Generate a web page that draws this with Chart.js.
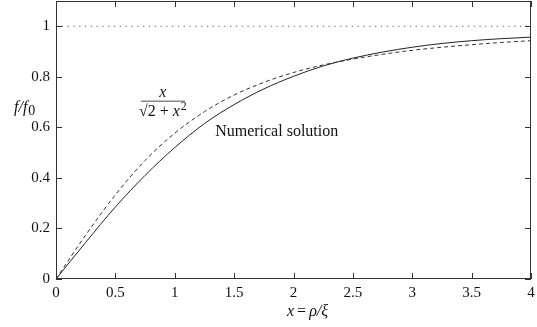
<!DOCTYPE html>
<html>
<head>
<meta charset="utf-8">
<script src="https://cdn.jsdelivr.net/npm/chart.js@4.4.1/dist/chart.umd.min.js"></script>
<style>
  html, body { margin: 0; padding: 0; background: #fff; }
  #wrap { width: 537px; height: 327px; }
</style>
</head>
<body>
<div id="wrap"><canvas id="grafica"></canvas></div>
<script>
// values
const xs = [0, 0.25, 0.5, 0.75, 1, 1.25, 1.5, 1.75, 2, 2.25, 2.5, 2.75, 3, 3.25, 3.5, 3.75, 4];
const numerica = [0, 0.145, 0.285, 0.41, 0.52, 0.615, 0.69, 0.752, 0.802, 0.843, 0.874, 0.898, 0.917, 0.932, 0.943, 0.951, 0.957];
const aproximacion = [0, 0.174, 0.333, 0.469, 0.577, 0.662, 0.728, 0.778, 0.817, 0.847, 0.870, 0.889, 0.905, 0.917, 0.927, 0.936, 0.943];
const limiteX = [0, 4];
const limite = [1, 1];
const xTicks = [0, 0.5, 1, 1.5, 2, 2.5, 3, 3.5, 4];
const yTicks = [0, 0.2, 0.4, 0.6, 0.8, 1];

const serif = "'Liberation Serif', 'DejaVu Serif', serif";

function puntos(x, y) {
  return x.map((v, i) => ({ x: v, y: y[i] }));
}

// inward ticks on all four sides + frame + texts
const marco = {
  id: "marco",
  afterDraw(chart) {
    const ctx = chart.ctx;
    const a = chart.chartArea;
    const sx = chart.scales.x;
    const sy = chart.scales.y;
    ctx.save();
    ctx.strokeStyle = "#333";
    ctx.lineWidth = 1;
    ctx.strokeRect(a.left + 0.5, a.top + 0.5, a.right - a.left - 1, a.bottom - a.top - 1);
    ctx.beginPath();
    xTicks.forEach((v) => {
      const px = Math.round(sx.getPixelForValue(v)) + 0.5;
      ctx.moveTo(px, a.bottom);
      ctx.lineTo(px, a.bottom - 6);
      ctx.moveTo(px, a.top);
      ctx.lineTo(px, a.top + 6);
    });
    yTicks.forEach((v) => {
      const py = Math.round(sy.getPixelForValue(v)) + 0.5;
      ctx.moveTo(a.left, py);
      ctx.lineTo(a.left + 6, py);
      ctx.moveTo(a.right, py);
      ctx.lineTo(a.right - 6, py);
    });
    ctx.stroke();

    ctx.fillStyle = "#111";
    ctx.textBaseline = "alphabetic";
    ctx.textAlign = "left";

    // y title f/f0
    ctx.font = "italic 16px " + serif;
    ctx.fillText("f/f", 14, 112);
    let tx = 14 + ctx.measureText("f/f").width + 1;
    ctx.font = "14px " + serif;
    ctx.fillText("0", tx, 115);

    // x title x = ρ/ξ
    let xx = 287;
    const yy = 316;
    ctx.font = "italic 16px " + serif;
    ctx.fillText("x", xx, yy);
    xx += ctx.measureText("x").width + 3;
    ctx.font = "16px " + serif;
    ctx.fillText("=", xx, yy);
    xx += ctx.measureText("=").width + 3;
    ctx.font = "italic 16px " + serif;
    ctx.fillText("ρ/ξ", xx, yy);

    // fraction label x / sqrt(2 + x^2)
    const fx = sx.getPixelForValue(0.9);
    const fy = sy.getPixelForValue(0.703);
    ctx.font = "italic 16px " + serif;
    ctx.textAlign = "center";
    ctx.fillText("x", fx, fy - 4);
    ctx.strokeStyle = "#888";
    ctx.lineWidth = 1.5;
    ctx.beginPath();
    ctx.moveTo(fx - 22, fy);
    ctx.lineTo(fx + 22, fy);
    ctx.stroke();
    ctx.textAlign = "left";
    let qx = fx - 24;
    ctx.font = "16px " + serif;
    ctx.fillText("\u221A", qx, fy + 15);
    qx += ctx.measureText("\u221A").width;
    ctx.fillText("2 + ", qx, fy + 15);
    qx += ctx.measureText("2 + ").width;
    ctx.font = "italic 16px " + serif;
    ctx.fillText("x", qx, fy + 15);
    qx += ctx.measureText("x").width + 1;
    ctx.font = "12px " + serif;
    ctx.fillText("2", qx, fy + 9);

    // Numerical solution
    ctx.font = "16px " + serif;
    ctx.fillText("Numerical solution", sx.getPixelForValue(1.34), sy.getPixelForValue(0.584) + 5);
    ctx.restore();
  },
};

new Chart(document.getElementById("grafica"), {
  type: "line",
  data: {
    datasets: [
      {
        data: puntos(limiteX, limite),
        borderColor: "#666",
        borderWidth: 1.2,
        borderDash: [1.3, 4.5],
        pointRadius: 0,
      },
      {
        data: puntos(xs, aproximacion),
        borderColor: "#333",
        borderWidth: 1,
        borderDash: [4, 3],
        pointRadius: 0,
        cubicInterpolationMode: "monotone",
      },
      {
        data: puntos(xs, numerica),
        borderColor: "#222",
        borderWidth: 1,
        pointRadius: 0,
        cubicInterpolationMode: "monotone",
      },
    ],
  },
  options: {
    responsive: true,
    maintainAspectRatio: false,
    animation: false,
    layout: { padding: { top: 1, right: 6, left: 0, bottom: 0 } },
    plugins: {
      legend: { display: false },
      tooltip: { enabled: false },
    },
    scales: {
      x: {
        type: "linear",
        min: 0,
        max: 4,
        afterFit: (s) => {
          s.height = 48;
          s.paddingLeft = 0;
          s.paddingRight = 0;
        },
        afterBuildTicks: (s) => { s.ticks = xTicks.map((v) => ({ value: v })); },
        grid: { display: false, drawTicks: false },
        border: { display: false },
        ticks: {
          padding: 5,
          color: "#111",
          maxRotation: 0,
          font: { family: serif, size: 15 },
          callback: (v) => String(v),
        },
      },
      y: {
        min: 0,
        max: 1.1,
        afterFit: (s) => {
          s.width = 56;
          s.paddingTop = 0;
          s.paddingBottom = 0;
        },
        afterBuildTicks: (s) => { s.ticks = yTicks.map((v) => ({ value: v })); },
        grid: { display: false, drawTicks: false },
        border: { display: false },
        ticks: {
          padding: 6,
          color: "#111",
          font: { family: serif, size: 15 },
          callback: (v) => String(v),
        },
      },
    },
  },
  plugins: [marco],
});
</script>
</body>
</html>
